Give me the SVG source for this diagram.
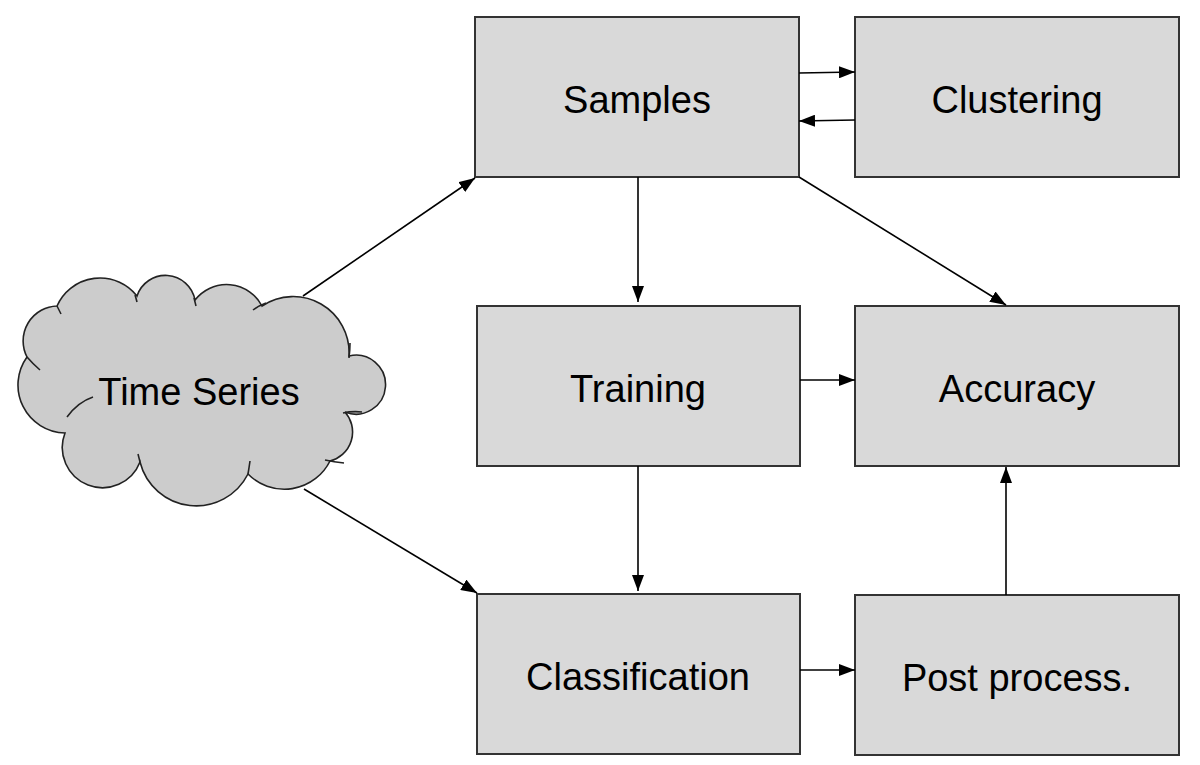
<svg xmlns="http://www.w3.org/2000/svg" width="1200" height="765" viewBox="0 0 1200 765">
<defs>
<marker id="ah" viewBox="0 0 16 12" refX="16" refY="6" markerWidth="16" markerHeight="12" markerUnits="userSpaceOnUse" orient="auto">
<path d="M0,0 L16,6 L0,12 Z" fill="#000"/>
</marker>
</defs>
<style>
.box{fill:#d9d9d9;stroke:#333;stroke-width:2}
.lbl{font-family:"Liberation Sans",Arial,sans-serif;font-size:38px;fill:#000;text-anchor:middle}
.cn{fill:none;stroke:#000;stroke-width:1.6;marker-end:url(#ah)}
.tail{fill:none;stroke:#222;stroke-width:1.6}
</style>
<rect width="1200" height="765" fill="#fff"/>
<g id="time-series">
<path d="M65,433 A48,48 0 0 1 27,357 A35,35 0 0 1 57,306 A47,47 0 0 1 137,296 A30,30 0 0 1 195,300 A40,40 0 0 1 262,306 A56,56 0 0 1 349,356 A29.5,29.5 0 1 1 345,412 A30,30 0 0 1 330,461 A51,51 0 0 1 248,474 A58,58 0 0 1 140,462 A40,40 0 0 1 65,433 Z" fill="#cccccc" stroke="#222" stroke-width="1.6"/>
<path class="tail" d="M27,357 Q33,364 40,370"/>
<path class="tail" d="M57,306 Q59,310 61,314"/>
<path class="tail" d="M135,295 Q136,298 137,302"/>
<path class="tail" d="M194,298 Q195,302 196,306"/>
<path class="tail" d="M253,310 Q258,306 266,303"/>
<path class="tail" d="M349,358 Q350,350 350,343"/>
<path class="tail" d="M343,413 Q352,411 362,412"/>
<path class="tail" d="M325,460 Q334,462 344,463"/>
<path class="tail" d="M248,474 Q249,468 250,461"/>
<path class="tail" d="M67,417 Q78,402 93,397"/>
<path class="tail" d="M140,462 Q139,458 138,454"/>
<text class="lbl" x="199" y="405">Time Series</text>
</g>
<g id="samples">
<rect class="box" x="475" y="17" width="324" height="160"/>
<text class="lbl" x="637" y="113">Samples</text>
</g>
<g id="clustering">
<rect class="box" x="855" y="17" width="324" height="160"/>
<text class="lbl" x="1017" y="113">Clustering</text>
</g>
<g id="training">
<rect class="box" x="477" y="306" width="323" height="160"/>
<text class="lbl" x="638" y="402">Training</text>
</g>
<g id="accuracy">
<rect class="box" x="855" y="306" width="324" height="160"/>
<text class="lbl" x="1017" y="402">Accuracy</text>
</g>
<g id="classification">
<rect class="box" x="477" y="594" width="323" height="160"/>
<text class="lbl" x="638" y="690">Classification</text>
</g>
<g id="post-process">
<rect class="box" x="855" y="595" width="324" height="160"/>
<text class="lbl" x="1017" y="691">Post process.</text>
</g>
<g id="connectors">
<line class="cn" x1="799" y1="73" x2="855" y2="72"/>
<line class="cn" x1="855" y1="120" x2="799" y2="121"/>
<line class="cn" x1="303" y1="296" x2="475" y2="178"/>
<line class="cn" x1="638" y1="177" x2="638" y2="302"/>
<line class="cn" x1="799" y1="177" x2="1006" y2="305"/>
<line class="cn" x1="800" y1="380" x2="855" y2="380"/>
<line class="cn" x1="638" y1="466" x2="638" y2="591"/>
<line class="cn" x1="304" y1="489" x2="477" y2="593"/>
<line class="cn" x1="800" y1="670" x2="855" y2="670"/>
<line class="cn" x1="1006" y1="595" x2="1006" y2="467"/>
</g>
</svg>
